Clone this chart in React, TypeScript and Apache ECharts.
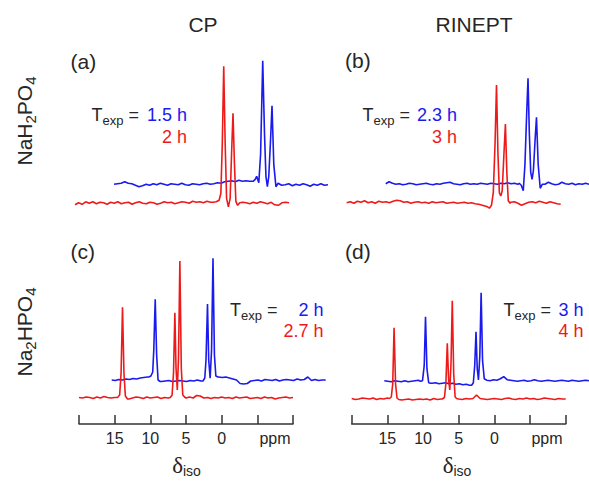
import React, { useEffect, useRef } from 'react';
import * as echarts from 'echarts';

// chemical shift sampling grid for baselines (ppm)
const ppmGrid = [
  20, 19.5, 19, 18.5, 18, 17.5, 17, 16.5, 16, 15.5,
  15, 14.5, 14, 13.5, 13, 12.5, 12, 11.5, 11, 10.5,
  10, 9.5, 9, 8.5, 8, 7.5, 7, 6.5, 6, 5.5,
  5, 4.5, 4, 3.5, 3, 2.5, 2, 1.5, 1, 0.5,
  0, -0.5, -1, -1.5, -2, -2.5, -3, -3.5, -4, -4.5,
  -5, -5.5, -6, -6.5, -7, -7.5, -8, -8.5, -9, -9.5,
  -10,
];

const xTicks = [15, 10, 5, 0];
const xUnit = 'ppm';

// ---- (a) NaH2PO4, CP ----
const redA_base = [
  -1.5, 0.5, -1, 1.5, 0, 1.5, -0.5, 1, 0.5, -1,
  1, 0, 1.5, -0.5, 0.5, 1, -1, 0.5, 1.5, 0,
  -0.5, 1, 0.5, -1, 0, 1.5, 0.5, 1, -0.5, 0.5,
  1.5, 1, 0, 2, 1, 1.5, 0.5, 2, 1, 0,
  0, 0, 0, 0, 0, 0, 0, 1, 0.5, -0.5,
  1, 0, 1.5, 0.5, -0.5, 1, -1.5, -2, 0.5, 1,
  0.5,
];
const redA_peaks = [
  [[0.6, 1], [0.2, 1.5], [-0.2, 3], [-0.45, 10], [-0.65, 60], [-0.85, 137], [-1.05, 60], [-1.25, 5],
   [-1.5, -3.5], [-1.75, 5], [-1.95, 50], [-2.15, 90], [-2.35, 40], [-2.55, 2], [-2.8, -2], [-3.1, 0.5]],
];
const blueA_base = [
  0, 0.5, 1, 2.5, 1, 0.5, -1, -2.5, -1.5, 0,
  -1, 0.5, -0.5, 1, 0, -1, 0.5, 0, -0.5, 1,
  -0.5, -1, 0.5, 0, -0.5, 0.5, 1, 0, 0.5, 1.5,
  1, 2.5, 3, 3.5, 2.5, 4, 3, 3.5, 3, 0,
  0, 0, 0, 0, 0, 0, 0, -1, -0.5, 0.5,
  -1.5, 0, -1, 0.5, -0.5, -2, 0, -1, 0.5, -1,
  -0.5,
];
const blueA_peaks = [
  [[0.5, 3], [0.2, 5], [0.0, 8], [-0.3, 1.5], [-0.55, 30], [-0.85, 123.6], [-1.1, 50], [-1.3, 8],
   [-1.5, -2.4], [-1.7, 8], [-1.95, 45], [-2.15, 78.6], [-2.4, 20], [-2.7, -2.4], [-3.0, 1]],
];

// ---- (b) NaH2PO4, RINEPT ----
const redB_base = [
  0, 1, -0.5, 1.5, 0.5, 2, 0, 1, -0.5, 1.5,
  0.5, 1, 0, 1.5, 2.5, 2, 0.5, 1, -0.5, 0.5,
  1, 0, 0.5, -0.5, 1, 0, 0.5, 1, -0.5, 0,
  0.5, -0.5, 0, 0.5, -0.5, 0, -1, -1.5, -2.5, -3.5,
  0, 0, 0, 0, 0, 0, 0.5, 1, -0.5, -2.5,
  -1, 0.5, 1, 0, 1.5, 0.5, -0.5, 1, 0, -1,
  -1.5,
];
const redB_peaks = [
  [[0.3, -4], [0.0, -5.5], [-0.3, -2.5], [-0.55, 10], [-0.8, 60], [-1.0, 117.7], [-1.2, 50], [-1.4, 10],
   [-1.6, 6.7], [-1.8, 12], [-2.05, 50], [-2.25, 78.7], [-2.45, 30], [-2.65, 2], [-2.9, -0.5]],
];
const blueB_base = [
  0.5, 2.5, 1, 0, 0.5, -0.5, 0, 1, 0.5, -0.5,
  0, 0.5, 1, 0, -0.5, 0.5, 0, 1, 1.5, 2,
  0.5, 0, -0.5, 0.5, 1, 0, 0.5, 0, 1, 0.5,
  0, 1, 0.5, 0, 1, 0.5, 1.5, 0.5, 1, 0,
  0, 0, 0, 0, 0, 0, 0, 0, 2, 0.5,
  -0.5, 0, 2, 0.5, 0, 1, -0.5, 0.5, 0, 1,
  0,
];
const blueB_peaks = [
  [[0.3, 1], [0.0, -1], [-0.3, -6.4], [-0.55, 20], [-0.8, 70], [-1.0, 106], [-1.2, 50], [-1.4, 12],
   [-1.6, 5], [-1.8, 14], [-2.05, 45], [-2.25, 67], [-2.5, 20], [-2.8, -4], [-3.1, 0]],
];

// ---- (c) Na2HPO4, CP ----
const redC_base = [
  0.5, 0, 1, 0.5, -0.5, 1, 0, 1.5, 0.5, 0,
  0.5, 0, 0, 0, -1, 0, 1, 0.5, -0.5, 1,
  0, 0.5, 1, -0.5, 0.5, 0, 0, 0, 0, 0,
  0, 1, 0, 2.5, 2, 0, 0.5, -0.5, 0.5, 0,
  1, 0, 0.5, -0.5, 1, 0, 0.5, 1, -0.5, 0,
  0.5, -0.5, 1, 0, 0.5, -1, 0, 0.5, 1, 0,
  0.5,
];
const redC_peaks = [
  [[14.6, 0.5], [14.3, 3], [14.1, 25], [13.9, 90.7], [13.7, 25], [13.5, 2], [13.2, -1]],
  [[7.2, 0.5], [6.95, 3], [6.75, 25], [6.56, 85.3], [6.4, 30], [6.22, 8], [6.05, 40], [5.86, 137],
   [5.66, 30], [5.45, 3], [5.2, 1]],
];
const blueC_base = [
  0, -0.5, 0.5, 0, 1, 0.5, 1.5, 1, 2, 2.5,
  3, 0, 0, 0, -1.5, -1, -0.5, -1.5, -1, -0.5,
  -1, -1.5, -0.5, -1, 0, -1, 0, 0, 0, 0,
  3, 2.5, 3, 2, 1, 0, -3.5, -4, -3.5, -1,
  -0.5, 0, -1, 0.5, 0, -0.5, 0.5, -1, 0, 0.5,
  0, -0.5, 1, 0, 0.5, 3, -0.5, 0.5, -0.5, 0,
  0,
];
const blueC_peaks = [
  [[14.8, 3], [14.5, 4], [14.25, 8], [14.1, 30], [13.9, 80.7], [13.7, 25], [13.5, 0], [13.2, -1.5]],
  [[7.2, -1], [6.95, 2], [6.78, 20], [6.57, 76], [6.4, 20], [6.2, 1.7], [6.0, 30], [5.8, 121.7],
   [5.6, 25], [5.4, 4], [5.1, 3]],
];

// ---- (d) Na2HPO4, RINEPT ----
const redD_base = [
  0.5, -0.5, 0, 1, 0.5, 0, 1, -0.5, 0.5, 0,
  1, 0, 0, 0, -1, -0.5, 0, -1, -0.5, 0,
  -0.5, 0, -1, 0.5, -0.5, 0, 0, 0, 0, 0,
  0, -0.5, 0.5, 0, 0.5, 4, 0.5, 0, -0.5, 0,
  0.5, 0, -0.5, 0.5, 1, 0, -0.5, 0.5, 0, 1,
  0, 0.5, -0.5, 0, 1, 0.5, 0, -0.5, 0.5, 0,
  0,
];
const redD_peaks = [
  [[14.7, 0.5], [14.45, 2], [14.25, 15], [14.06, 71.3], [13.85, 15], [13.65, 1], [13.4, -0.5]],
  [[7.3, 0], [7.0, 1.5], [6.8, 15], [6.6, 55.7], [6.42, 20], [6.25, 9], [6.08, 35], [5.9, 98.3],
   [5.7, 25], [5.5, 2], [5.3, 0.5]],
];
const blueD_base = [
  0, -0.5, -1, 0, -0.5, -1, 0, -1, -0.5, 0,
  0.5, 0, 0, 0, -2.5, -2, -3, -2.5, -2, -3,
  -2.5, -3.5, -3, -4, -3.5, -4.5, 0, 0, 0, 0,
  0.5, 0, 1, 0.5, 2, 4, 1, 0.5, 0, -0.5,
  0, 0.5, -0.5, 0, 1, 0, -0.5, 0, 0.5, 0,
  -0.5, 0, 0.5, 0, -0.5, 0.5, 0, -0.5, 0, 0.5,
  0,
];
const blueD_peaks = [
  [[14.7, -0.5], [14.4, 0], [14.15, 15], [13.96, 64], [13.75, 12], [13.5, -2], [13.2, -2.5]],
  [[7.2, -4.5], [6.95, -2], [6.75, 15], [6.56, 49], [6.38, 12], [6.2, 0.7], [6.0, 25], [5.81, 88],
   [5.6, 20], [5.35, 2], [5.1, 1]],
];

function buildTrace(base: number[], peaks: number[][][]) {
  const pts: number[][] = ppmGrid
    .map((p, i) => [p, base[i]])
    .filter(([p]) => !peaks.some((seg) => p <= seg[0][0] && p >= seg[seg.length - 1][0]));
  peaks.forEach((seg) => seg.forEach((pt) => pts.push(pt)));
  pts.sort((a, b) => b[0] - a[0]);
  return pts;
}

const FONT = '"Liberation Sans", Arial, Helvetica, sans-serif';
const DARK = '#262626';
const BLUE = '#1a1aee';
const RED = '#ee1a1a';
const AXIS = '#333333';

// layout of each stacked trace (pixels)
const traces = [
  { data: buildTrace(blueA_base, blueA_peaks), color: BLUE, left: 114, base: 184.3, axis: false },
  { data: buildTrace(redA_base, redA_peaks), color: RED, left: 75, base: 203.3, axis: false },
  { data: buildTrace(blueB_base, blueB_peaks), color: BLUE, left: 385.7, base: 184.3, axis: false },
  { data: buildTrace(redB_base, redB_peaks), color: RED, left: 346.7, base: 202.7, axis: false },
  { data: buildTrace(blueC_base, blueC_peaks), color: BLUE, left: 111.7, base: 380, axis: false },
  { data: buildTrace(redC_base, redC_peaks), color: RED, left: 79, base: 398, axis: true },
  { data: buildTrace(blueD_base, blueD_peaks), color: BLUE, left: 384.3, base: 380.7, axis: false },
  { data: buildTrace(redD_base, redD_peaks), color: RED, left: 351.7, base: 399, axis: true },
];

const AXIS_Y = 424;
const SPAN = 214;

export default function App() {
  const ref = useRef<HTMLDivElement>(null);
  useEffect(() => {
    document.body.style.margin = '0';
    if (!ref.current) return;
    const chart = echarts.init(ref.current, null, { renderer: 'svg' });

    const grids = traces.map((t) => ({ left: t.left, top: t.base - 150, width: SPAN, height: 160 }));
    const xAxes = traces.map((t, i) => ({
      type: 'value',
      gridIndex: i,
      min: -10,
      max: 20,
      interval: 5,
      inverse: true,
      show: t.axis,
      position: 'bottom',
      offset: AXIS_Y - (t.base + 10),
      splitLine: { show: false },
      axisLine: { show: true, onZero: false, lineStyle: { color: AXIS, width: 1.5 } },
      axisTick: { show: true, inside: true, length: 9, lineStyle: { color: AXIS, width: 1.5 } },
      axisLabel: {
        show: true,
        margin: 6,
        fontSize: 16,
        fontFamily: FONT,
        color: DARK,
        formatter: (v: number) => (xTicks.includes(v) ? String(v) : ''),
      },
    }));
    const yAxes = traces.map((_, i) => ({ type: 'value', gridIndex: i, min: -10, max: 150, show: false }));
    const series = traces.map((t, i) => ({
      type: 'line',
      xAxisIndex: i,
      yAxisIndex: i,
      data: t.data,
      symbol: 'none',
      showSymbol: false,
      clip: false,
      silent: true,
      z: t.color === RED ? 3 : 2,
      lineStyle: { color: t.color, width: 1.6 },
    }));

    const subRich = (main: number, sub: number, color: string, mainFont = FONT) => ({
      m: { fontSize: main, lineHeight: main + 6, fontFamily: mainFont, fill: color },
      s: { fontSize: sub, lineHeight: sub - 1, verticalAlign: 'bottom', fontFamily: FONT, fill: color },
    });

    const plain = (text: string, x: number, y: number, size: number, color: string, align = 'center') => ({
      type: 'text',
      x,
      y,
      silent: true,
      style: {
        text,
        fontSize: size,
        fontFamily: FONT,
        fill: color,
        align,
        textAlign: align,
        verticalAlign: 'middle',
        textVerticalAlign: 'middle',
      },
    });

    const rich = (text: string, x: number, y: number, r: any, align = 'left', rotation = 0) => ({
      type: 'text',
      x,
      y,
      rotation,
      silent: true,
      style: {
        text,
        rich: r,
        align,
        textAlign: align,
        verticalAlign: 'middle',
        textVerticalAlign: 'middle',
      },
    });

    const texp = subRich(18, 13, DARK);
    const compound = subRich(21, 15, DARK);
    const delta = {
      m: { fontSize: 23, lineHeight: 26, fontFamily: '"Liberation Serif", "DejaVu Serif", serif', fill: DARK },
      s: { fontSize: 14, lineHeight: 10, verticalAlign: 'bottom', fontFamily: FONT, fill: DARK },
    };

    const graphic = [
      plain('CP', 203, 24, 21, DARK),
      plain('RINEPT', 474, 24, 21, DARK),
      plain('(a)', 70.5, 61, 21, DARK, 'left'),
      plain('(b)', 345, 60, 21, DARK, 'left'),
      plain('(c)', 70.5, 251, 21, DARK, 'left'),
      plain('(d)', 345, 251, 21, DARK, 'left'),
      rich('{m|NaH}{s|2}{m|PO}{s|4}', 24, 121, compound, 'center', Math.PI / 2),
      rich('{m|Na}{s|2}{m|HPO}{s|4}', 24, 332, compound, 'center', Math.PI / 2),
      // (a)
      rich('{m|T}{s|exp}{m| =}', 91.5, 115, texp, 'left'),
      plain('1.5 h', 187, 115, 18, BLUE, 'right'),
      plain('2 h', 187, 137, 18, RED, 'right'),
      // (b)
      rich('{m|T}{s|exp}{m| =}', 362.5, 115, texp, 'left'),
      plain('2.3 h', 457, 115, 18, BLUE, 'right'),
      plain('3 h', 457, 137, 18, RED, 'right'),
      // (c)
      rich('{m|T}{s|exp}{m| =}', 230, 310, texp, 'left'),
      plain('2 h', 323.5, 310, 18, BLUE, 'right'),
      plain('2.7 h', 323.5, 331, 18, RED, 'right'),
      // (d)
      rich('{m|T}{s|exp}{m| =}', 503.5, 310, texp, 'left'),
      plain('3 h', 583.5, 310, 18, BLUE, 'right'),
      plain('4 h', 583.5, 331, 18, RED, 'right'),
      // axis units and titles
      plain(xUnit, 275, 438, 16, DARK),
      plain(xUnit, 547, 438, 16, DARK),
      rich('{m|δ}{s|iso}', 186.5, 465, delta, 'center'),
      rich('{m|δ}{s|iso}', 457, 465, delta, 'center'),
    ];

    chart.setOption({
      animation: false,
      backgroundColor: '#ffffff',
      grid: grids,
      xAxis: xAxes,
      yAxis: yAxes,
      series,
      graphic,
    });
    return () => chart.dispose();
  }, []);
  return <div ref={ref} style={{ width: 589, height: 481 }} />;
}
